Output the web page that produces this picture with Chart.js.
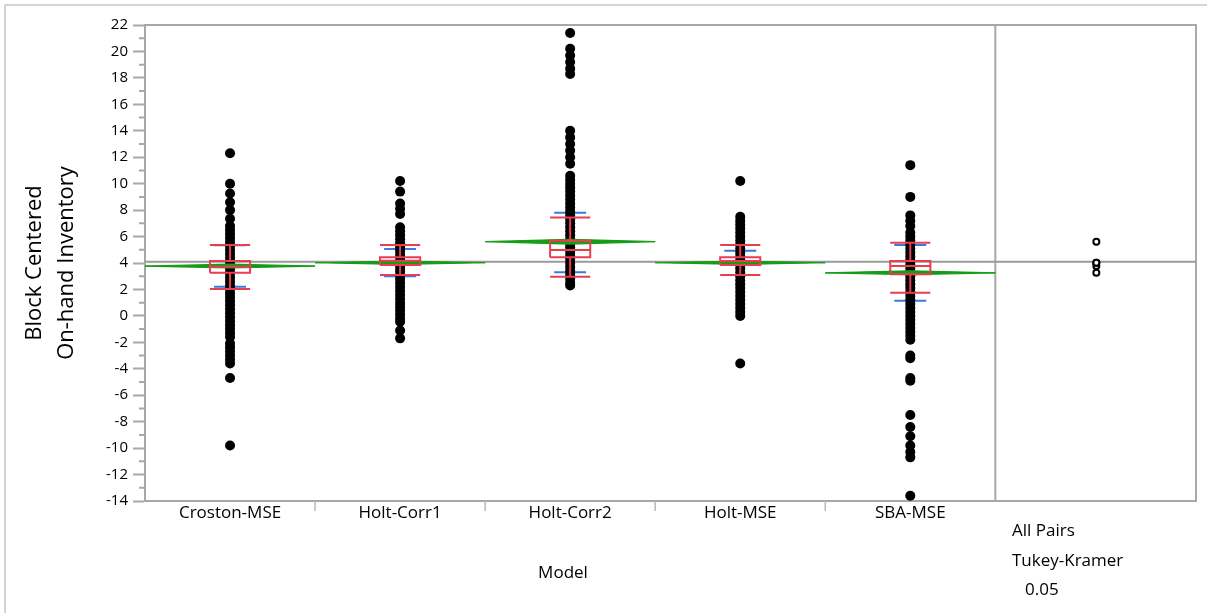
<!DOCTYPE html>
<html>
<head>
<meta charset="utf-8">
<script src="https://cdn.jsdelivr.net/npm/chart.js@4"></script>
<style>
  html, body { margin: 0; padding: 0; background: #fff; }
  #wrap { width: 1207px; height: 613px; }
</style>
</head>
<body>
<div id="wrap"><canvas id="chart" width="1207" height="613"></canvas></div>
<script>
// Categories and raw points
const models = ['Croston-MSE', 'Holt-Corr1', 'Holt-Corr2', 'Holt-MSE', 'SBA-MSE'];

const crostonMse = [12.3, 10.0, 9.25, 8.6, 8.0, 7.35, 6.8, 6.5, 6.2, 5.9, 5.6, 5.3, 5.0, 4.7, 4.4, 4.1, 3.8, 3.5, 3.2, 2.9,
    2.6, 2.3, 2.0, 1.7, 1.4, 1.1, 0.8, 0.5, 0.2, -0.1, -0.4, -0.7, -1.0, -1.3, -1.6, -2.1, -2.4, -2.7, -3.0, -3.3, -3.6, -4.7, -9.8];
const holtCorr1 = [10.2, 9.4, 8.5, 8.1, 7.7, 6.7, 6.4, 6.1, 5.8, 5.5, 5.2, 4.9, 4.6, 4.3, 4.0, 3.7, 3.4, 3.1, 2.8, 2.5,
    2.2, 1.9, 1.6, 1.3, 1.0, 0.7, 0.4, 0.1, -0.2, -0.45, -1.1, -1.7];
const holtCorr2 = [21.4, 20.2, 19.7, 19.2, 18.7, 18.3, 14.0, 13.5, 13.0, 12.5, 12.0, 11.5, 10.6, 10.3, 10.0, 9.7, 9.4, 9.1,
    8.8, 8.5, 8.2, 7.9, 7.6, 7.3, 7.0, 6.7, 6.4, 6.1, 5.8, 5.5, 5.2, 4.9, 4.6, 4.3, 4.0, 3.7, 3.4, 3.1, 2.8, 2.5, 2.3];
const holtMse = [10.2, 7.5, 7.2, 6.9, 6.6, 6.3, 6.0, 5.7, 5.4, 5.1, 4.8, 4.5, 4.2, 3.9, 3.6, 3.3, 3.0, 2.7, 2.4, 2.1,
    1.8, 1.5, 1.2, 0.9, 0.6, 0.3, 0.0, -3.6];
const sbaMse = [11.4, 9.0, 7.6, 7.2, 6.8, 6.3, 6.0, 5.7, 5.4, 5.1, 4.8, 4.5, 4.2, 3.9, 3.6, 3.3, 3.0, 2.7, 2.4, 2.1,
    1.8, 1.5, 1.2, 0.9, 0.6, 0.3, 0.0, -0.3, -0.6, -0.9, -1.2, -1.5, -1.8, -3.0, -3.2, -4.7, -4.9, -7.5, -8.4, -9.1,
    -9.8, -10.3, -10.7, -13.6];

// Summary statistics per model
const means = [3.77, 4.02, 5.61, 4.02, 3.26];
const sdLow = [2.2, 3.0, 3.3, 3.1, 1.15];
const sdHigh = [5.34, 5.06, 7.8, 4.93, 5.36];
const quartile1 = [3.26, 3.85, 4.43, 3.85, 3.14];
const medians = [3.72, 4.17, 4.98, 4.15, 3.77];
const quartile3 = [4.15, 4.43, 5.68, 4.43, 4.15];
const whiskerLow = [2.03, 3.09, 2.96, 3.09, 1.75];
const whiskerHigh = [5.36, 5.36, 7.45, 5.36, 5.53];
const ciHalf = [0.14, 0.13, 0.18, 0.13, 0.15];
const grandMean = 4.1;

const yMin = -14, yMax = 22;

// Layout constants (in x units: one model = 1)
const xMin = 0.5, xMax = 6.68;
const circleX = 6.094;
const boxHalf = 0.118, sdHalf = 0.094, meanTickHalf = 0.05;

const allSeries = [crostonMse, holtCorr1, holtCorr2, holtMse, sbaMse];

const GRAY = '#a8a8a8';
const RED = '#e83e52';
const BLUE = '#3a7be0';
const GREEN = '#169c16';
const FONT = "'Open Sans', 'Noto Sans', sans-serif";

// Build point list
const pointData = [];
allSeries.forEach((vals, i) => vals.forEach(v => pointData.push({ x: i + 1, y: v })));

// Helper to chain segments separated by gaps
const gap = (x) => ({ x: x, y: null });

const boxData = [];
const sdData = [];
models.forEach((m, i) => {
    const c = i + 1;
    boxData.push(
        { x: c - boxHalf, y: quartile1[i] }, { x: c + boxHalf, y: quartile1[i] },
        { x: c + boxHalf, y: quartile3[i] }, { x: c - boxHalf, y: quartile3[i] },
        { x: c - boxHalf, y: quartile1[i] }, gap(c),
        { x: c - boxHalf, y: medians[i] }, { x: c + boxHalf, y: medians[i] }, gap(c),
        { x: c, y: quartile3[i] }, { x: c, y: whiskerHigh[i] }, gap(c),
        { x: c - boxHalf, y: whiskerHigh[i] }, { x: c + boxHalf, y: whiskerHigh[i] }, gap(c),
        { x: c, y: quartile1[i] }, { x: c, y: whiskerLow[i] }, gap(c),
        { x: c - boxHalf, y: whiskerLow[i] }, { x: c + boxHalf, y: whiskerLow[i] }, gap(c)
    );
    sdData.push(
        { x: c - sdHalf, y: sdHigh[i] }, { x: c + sdHalf, y: sdHigh[i] }, gap(c),
        { x: c - sdHalf, y: sdLow[i] }, { x: c + sdHalf, y: sdLow[i] }, gap(c),
        { x: c - meanTickHalf, y: means[i] }, { x: c + meanTickHalf, y: means[i] }, gap(c)
    );
});

// Means diamonds as upper/lower halves filled between
const diamondSets = [];
models.forEach((m, i) => {
    const c = i + 1;
    const common = { type: 'line', borderColor: GREEN, borderWidth: 1.2, pointRadius: 0, tension: 0, order: 7 };
    diamondSets.push({
        ...common,
        data: [{ x: c - 0.5, y: means[i] }, { x: c, y: means[i] + ciHalf[i] }, { x: c + 0.5, y: means[i] }],
        fill: false
    });
    diamondSets.push({
        ...common,
        data: [{ x: c - 0.5, y: means[i] }, { x: c, y: means[i] - ciHalf[i] }, { x: c + 0.5, y: means[i] }],
        fill: '-1',
        backgroundColor: GREEN
    });
});

const extrasPlugin = {
    id: 'extras',
    beforeDatasetsDraw(chart) {
        const { ctx, chartArea: a, scales: { x, y } } = chart;
        ctx.save();
        // outer frame
        ctx.strokeStyle = '#d4d4d4';
        ctx.lineWidth = 2;
        ctx.beginPath();
        ctx.moveTo(5, 613); ctx.lineTo(5, 5); ctx.lineTo(1207, 5);
        ctx.stroke();
        // plot frame: top, right, divider
        ctx.strokeStyle = GRAY;
        ctx.beginPath();
        ctx.moveTo(a.left, a.top); ctx.lineTo(a.right, a.top); ctx.lineTo(a.right, a.bottom);
        const dx = x.getPixelForValue(5.5);
        ctx.moveTo(dx, a.top); ctx.lineTo(dx, a.bottom);
        ctx.stroke();
        // minor y ticks
        ctx.lineWidth = 2;
        ctx.beginPath();
        for (let v = yMin + 1; v < yMax; v += 2) {
            const py = y.getPixelForValue(v);
            ctx.moveTo(a.left - 6, py); ctx.lineTo(a.left, py);
        }
        ctx.stroke();
        // x boundary ticks
        ctx.strokeStyle = '#b8b8b8';
        ctx.lineWidth = 1.5;
        ctx.beginPath();
        for (let b = 1.5; b < 5; b += 1) {
            const px = x.getPixelForValue(b);
            ctx.moveTo(px, a.bottom); ctx.lineTo(px, a.bottom + 10);
        }
        ctx.stroke();
        ctx.restore();
    },
    afterDraw(chart) {
        const { ctx } = chart;
        ctx.save();
        ctx.fillStyle = '#000';
        ctx.font = '17px ' + FONT;
        ctx.textBaseline = 'middle';
        ctx.textAlign = 'center';
        ctx.fillText('Model', 563, 573);
        ctx.textAlign = 'left';
        ctx.fillText('All Pairs', 1012, 531);
        ctx.fillText('Tukey-Kramer', 1012, 561);
        ctx.fillText('0.05', 1025, 590);
        ctx.restore();
    }
};

new Chart(document.getElementById('chart'), {
    type: 'scatter',
    data: {
        datasets: [
            {
                type: 'line',
                data: [{ x: xMin, y: grandMean }, { x: xMax, y: grandMean }],
                borderColor: '#9a9a9a', borderWidth: 2, pointRadius: 0, order: 10
            },
            {
                type: 'line',
                data: sdData,
                borderColor: BLUE, borderWidth: 2, pointRadius: 0, spanGaps: false, order: 9
            },
            {
                data: pointData,
                pointRadius: 5, pointBackgroundColor: '#000', pointBorderWidth: 0, order: 8
            },
            ...diamondSets,
            {
                type: 'line',
                data: boxData,
                borderColor: RED, borderWidth: 2, pointRadius: 0, spanGaps: false, order: 6
            },
            {
                data: means.map(m => ({ x: circleX, y: m })),
                pointRadius: 3, pointBackgroundColor: '#fff', pointBorderColor: '#000', pointBorderWidth: 2, order: 5
            }
        ]
    },
    options: {
        responsive: false,
        animation: false,
        events: [],
        layout: { padding: { left: 0, top: 25, right: 11, bottom: 0 } },
        plugins: { legend: { display: false }, tooltip: { enabled: false } },
        scales: {
            x: {
                type: 'linear',
                min: xMin,
                max: xMax,
                afterBuildTicks: (scale) => { scale.ticks = models.map((m, i) => ({ value: i + 1 })); },
                afterFit: (scale) => { scale.height = 112; },
                ticks: {
                    callback: (v) => models[v - 1] || '',
                    font: { family: FONT, size: 17 },
                    color: '#000',
                    padding: 2,
                    autoSkip: false,
                    maxRotation: 0
                },
                grid: { drawOnChartArea: false, drawTicks: false },
                border: { color: GRAY, width: 2 }
            },
            y: {
                min: yMin,
                max: yMax,
                afterFit: (scale) => { scale.width = 145; },
                ticks: {
                    stepSize: 1,
                    autoSkip: false,
                    callback: (v) => (v % 2 === 0 ? String(v) : ''),
                    font: { family: FONT, size: 15 },
                    color: '#000',
                    padding: 5
                },
                grid: {
                    drawOnChartArea: false,
                    tickLength: 12,
                    tickWidth: 2,
                    tickColor: (ctx) => (ctx.tick && ctx.tick.value % 2 === 0 ? GRAY : 'rgba(0,0,0,0)')
                },
                border: { color: GRAY, width: 2 },
                title: {
                    display: true,
                    text: ['Block Centered', 'On-hand Inventory'],
                    font: { family: FONT, size: 22, lineHeight: 1.45 },
                    color: '#000',
                    padding: { top: 18.5, bottom: 0 }
                }
            }
        }
    },
    plugins: [extrasPlugin]
});
</script>
</body>
</html>
